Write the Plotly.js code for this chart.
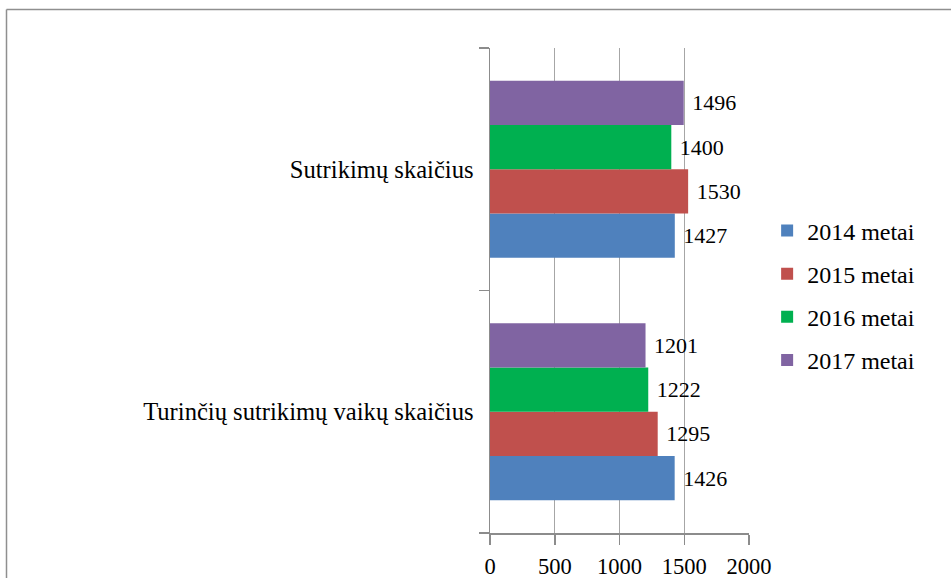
<!DOCTYPE html>
<html>
<head>
<meta charset="utf-8">
<script src="https://cdn.plot.ly/plotly-3.0.1.min.js"></script>
<style>
  html, body { margin: 0; padding: 0; background: #ffffff; }
  #chart { width: 951px; height: 578px; }
</style>
</head>
<body>
<div id="chart"></div>
<script>
// Categories (bottom to top, as Plotly draws horizontal categories)
const categories = ["Turinčių sutrikimų vaikų skaičius", "Sutrikimų skaičius"];
const seriesNames = ["2014 metai", "2015 metai", "2016 metai", "2017 metai"];
const values2014 = [1426, 1427];
const values2015 = [1295, 1530];
const values2016 = [1222, 1400];
const values2017 = [1201, 1496];
const xTickValues = [0, 500, 1000, 1500, 2000];
const seriesColors = ["#4F81BD", "#C0504D", "#00B050", "#8064A2"];

const allValues = [values2014, values2015, values2016, values2017];
const FONT = "Times New Roman, Liberation Serif, DejaVu Serif, serif";

const traces = allValues.map((vals, i) => ({
  type: "bar",
  orientation: "h",
  name: seriesNames[i],
  y: categories,
  x: vals,
  marker: { color: seriesColors[i] },
  text: vals.map(v => "\u00a0" + v),
  textposition: "outside",
  textfont: { family: FONT, size: 22, color: "#000000" },
  constraintext: "none",
  cliponaxis: false,
  legendgroup: "g" + i,
  hoverinfo: "x+name"
}));

// frame lines (left and top) in paper coordinates
const plotL = 490, plotR = 749, plotT = 48, plotB = 533;
const px = v => (v - plotL) / (plotR - plotL);
const py = v => (plotB - v) / (plotB - plotT);

const layout = {
  width: 951,
  height: 578,
  margin: { l: plotL, r: 951 - plotR, t: plotT, b: 578 - plotB, pad: 0 },
  paper_bgcolor: "#ffffff",
  plot_bgcolor: "#ffffff",
  barmode: "group",
  bargap: 0.27,
  bargroupgap: 0,
  font: { family: FONT, size: 22, color: "#000000" },
  showlegend: true,
  legend: {
    x: 1.07,
    xanchor: "left",
    y: 0.49,
    yanchor: "middle",
    traceorder: "grouped",
    tracegroupgap: 9,
    font: { family: FONT, size: 24, color: "#000000" },
    bgcolor: "rgba(0,0,0,0)"
  },
  xaxis: {
    range: [0, 2000],
    tickvals: xTickValues,
    ticktext: xTickValues.map(String),
    showgrid: true,
    gridcolor: "#a6a6a6",
    gridwidth: 1,
    zeroline: false,
    showline: true,
    linecolor: "#8c8c8c",
    linewidth: 1.5,
    ticks: "outside",
    ticklen: 10,
    tickcolor: "#8c8c8c",
    tickwidth: 1.5,
    ticklabelstandoff: 2,
    tickfont: { family: FONT, size: 22.5, color: "#000000" },
    fixedrange: true
  },
  yaxis: {
    type: "category",
    categoryorder: "array",
    categoryarray: categories,
    showgrid: false,
    zeroline: false,
    showline: true,
    linecolor: "#8c8c8c",
    linewidth: 1.5,
    ticks: "outside",
    tickson: "boundaries",
    ticklen: 10,
    tickcolor: "#8c8c8c",
    tickwidth: 1.5,
    ticklabelstandoff: 10,
    tickfont: { family: FONT, size: 24.6, color: "#000000" },
    fixedrange: true
  },
  shapes: [
    {
      type: "line", xref: "paper", yref: "paper",
      x0: px(6.5), x1: px(6.5), y0: py(9.5), y1: py(600),
      line: { color: "#8f8f8f", width: 1.5 }
    },
    {
      type: "line", xref: "paper", yref: "paper",
      x0: px(6.5), x1: px(960), y0: py(9.5), y1: py(9.5),
      line: { color: "#8f8f8f", width: 1.5 }
    }
  ]
};

Plotly.newPlot("chart", traces, layout, { displayModeBar: false, staticPlot: true });
</script>
</body>
</html>
